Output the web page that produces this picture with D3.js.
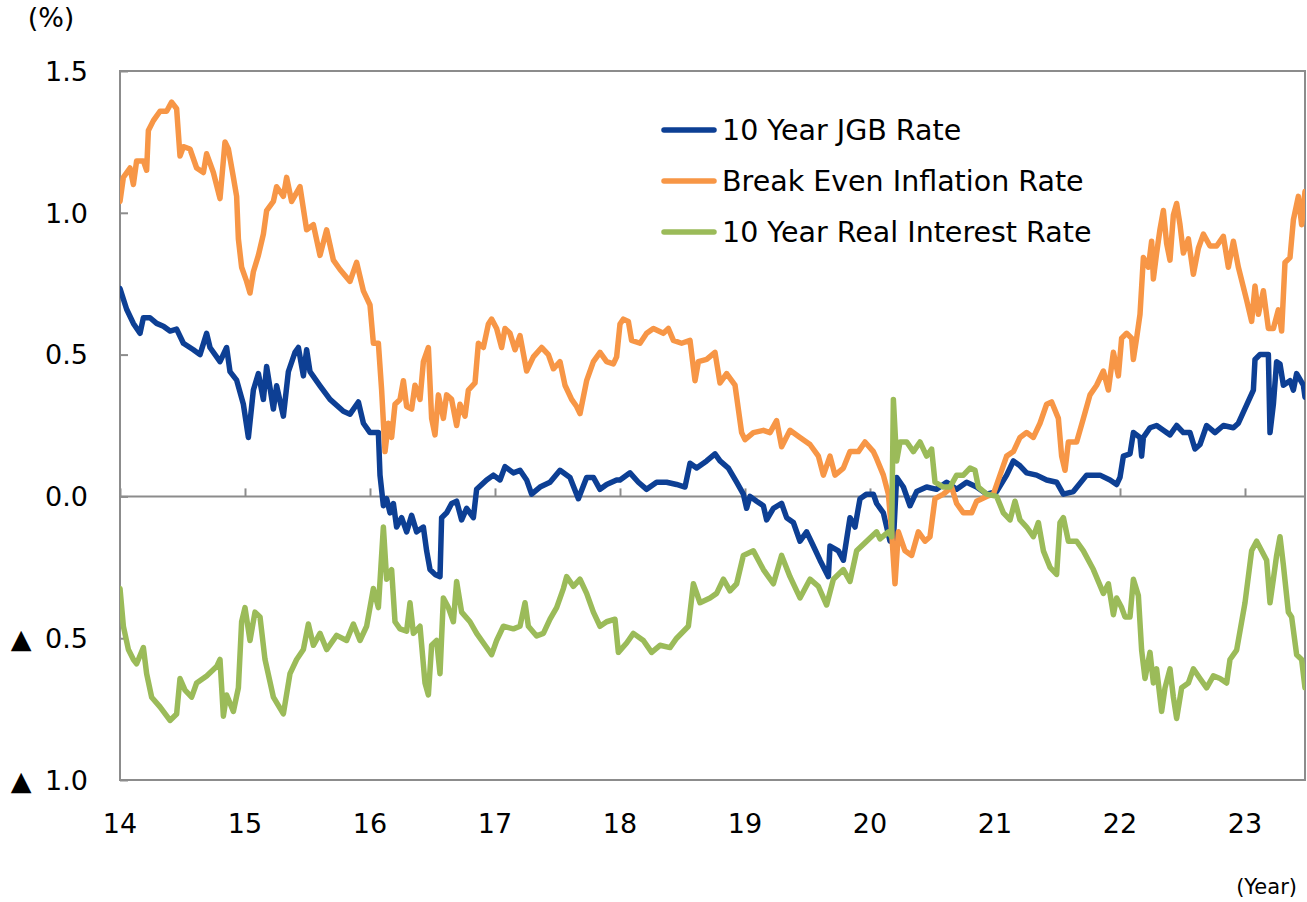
<!DOCTYPE html>
<html lang="en">
    <head>
        <meta charset="utf-8">
        <title>JGB, Break Even Inflation and Real Rate</title>
        <script src="https://d3js.org/d3.v7.min.js"></script>
        <style type="text/css">
            body { margin: 0; background: #fff; }
            text { font-family: "DejaVu Sans", Verdana, sans-serif; fill: #000; }
        </style>
    </head>
    <body>
        <svg width="1307" height="902"></svg>
        <script type="text/javascript">

            // values, [year (2-digit, decimal), rate %]
            const jgbRate = [
                [14.00,0.733],[14.053,0.66],[14.107,0.61],[14.16,0.575],[14.187,0.63],[14.24,0.63],[14.293,0.61],
                [14.347,0.60],[14.40,0.583],[14.453,0.59],[14.507,0.54],[14.587,0.517],[14.64,0.50],[14.693,0.575],
                [14.72,0.525],[14.80,0.475],[14.853,0.525],[14.88,0.44],[14.933,0.41],[14.987,0.325],[15.027,0.208],
                [15.067,0.375],[15.107,0.433],[15.147,0.342],[15.173,0.458],[15.227,0.308],[15.253,0.39],[15.307,0.283],
                [15.347,0.44],[15.40,0.508],[15.427,0.525],[15.467,0.425],[15.493,0.517],[15.52,0.44],[15.60,0.39],
                [15.68,0.342],[15.787,0.30],[15.84,0.29],[15.907,0.333],[15.947,0.258],[16.00,0.225],[16.027,0.225],
                [16.067,0.225],[16.08,0.075],[16.107,-0.033],[16.133,-0.008],[16.16,-0.058],[16.187,-0.025],[16.213,-0.108],
                [16.253,-0.075],[16.293,-0.125],[16.333,-0.067],[16.373,-0.125],[16.427,-0.108],[16.453,-0.192],[16.48,-0.258],
                [16.52,-0.275],[16.56,-0.283],[16.573,-0.075],[16.613,-0.058],[16.653,-0.025],[16.693,-0.017],[16.733,-0.083],
                [16.773,-0.042],[16.827,-0.075],[16.853,0.025],[16.933,0.058],[16.987,0.075],[17.04,0.058],[17.08,0.105],
                [17.147,0.083],[17.20,0.092],[17.253,0.058],[17.293,0.008],[17.36,0.033],[17.44,0.05],[17.52,0.092],
                [17.60,0.067],[17.667,-0.008],[17.733,0.067],[17.787,0.067],[17.84,0.025],[17.893,0.042],[17.973,0.058],
                [18.00,0.058],[18.08,0.083],[18.147,0.05],[18.213,0.025],[18.293,0.05],[18.373,0.05],[18.453,0.042],
                [18.52,0.033],[18.56,0.117],[18.613,0.10],[18.693,0.125],[18.76,0.15],[18.80,0.125],[18.867,0.10],
                [18.933,0.05],[18.987,0.008],[19.013,-0.042],[19.04,0],[19.093,-0.017],[19.147,-0.033],[19.173,-0.083],
                [19.227,-0.042],[19.293,-0.025],[19.333,-0.075],[19.387,-0.092],[19.44,-0.158],[19.493,-0.125],[19.547,-0.175],
                [19.60,-0.225],[19.667,-0.283],[19.68,-0.175],[19.747,-0.192],[19.787,-0.225],[19.84,-0.075],[19.88,-0.108],
                [19.92,-0.008],[19.973,0.008],[20.027,0.008],[20.053,-0.025],[20.107,-0.058],[20.16,-0.158],[20.187,-0.158],
                [20.213,0.067],[20.267,0.033],[20.32,-0.033],[20.373,0.017],[20.453,0.033],[20.533,0.025],[20.613,0.05],
                [20.693,0.025],[20.773,0.05],[20.853,0.033],[20.933,0.008],[21.013,0.017],[21.093,0.075],[21.147,0.125],
                [21.20,0.108],[21.253,0.083],[21.333,0.075],[21.413,0.058],[21.493,0.05],[21.547,0.008],[21.627,0.017],
                [21.733,0.075],[21.84,0.075],[21.92,0.058],[21.973,0.042],[22.00,0.067],[22.027,0.142],[22.08,0.15],
                [22.107,0.225],[22.16,0.208],[22.173,0.142],[22.187,0.208],[22.24,0.242],[22.293,0.25],[22.347,0.233],
                [22.40,0.217],[22.453,0.25],[22.507,0.225],[22.56,0.225],[22.60,0.167],[22.64,0.183],[22.693,0.25],
                [22.76,0.225],[22.827,0.25],[22.907,0.242],[22.947,0.258],[23.067,0.375],[23.08,0.483],[23.12,0.50],
                [23.187,0.50],[23.20,0.225],[23.227,0.325],[23.253,0.475],[23.28,0.467],[23.307,0.392],[23.36,0.408],
                [23.387,0.375],[23.413,0.433],[23.467,0.392],[23.48,0.35]
            ];

            const breakEven = [
                [14.00,1.04],[14.027,1.125],[14.08,1.158],[14.107,1.10],[14.133,1.183],[14.187,1.183],[14.213,1.15],
                [14.227,1.29],[14.267,1.325],[14.32,1.358],[14.373,1.358],[14.413,1.39],[14.453,1.367],[14.48,1.20],
                [14.507,1.233],[14.56,1.225],[14.613,1.158],[14.667,1.142],[14.693,1.208],[14.747,1.142],[14.80,1.05],
                [14.84,1.25],[14.867,1.225],[14.907,1.125],[14.933,1.058],[14.947,0.908],[14.973,0.808],[15.013,0.758],
                [15.04,0.717],[15.067,0.792],[15.107,0.85],[15.147,0.925],[15.173,1.008],[15.227,1.04],[15.253,1.092],
                [15.307,1.058],[15.333,1.125],[15.373,1.04],[15.44,1.092],[15.493,0.94],[15.547,0.958],[15.60,0.85],
                [15.653,0.94],[15.707,0.833],[15.76,0.80],[15.84,0.758],[15.893,0.825],[15.947,0.725],[16.00,0.675],
                [16.027,0.54],[16.067,0.54],[16.093,0.375],[16.12,0.158],[16.147,0.258],[16.173,0.208],[16.20,0.325],
                [16.24,0.342],[16.267,0.408],[16.293,0.317],[16.333,0.308],[16.36,0.392],[16.40,0.342],[16.427,0.475],
                [16.467,0.525],[16.493,0.275],[16.52,0.217],[16.547,0.358],[16.587,0.275],[16.613,0.358],[16.653,0.342],
                [16.693,0.25],[16.72,0.325],[16.76,0.283],[16.787,0.375],[16.84,0.40],[16.867,0.54],[16.907,0.525],
                [16.947,0.608],[16.973,0.625],[17.013,0.592],[17.053,0.525],[17.08,0.592],[17.12,0.575],[17.16,0.517],
                [17.20,0.567],[17.253,0.442],[17.307,0.492],[17.373,0.525],[17.427,0.50],[17.467,0.45],[17.52,0.475],
                [17.56,0.392],[17.613,0.342],[17.653,0.317],[17.68,0.292],[17.733,0.408],[17.787,0.475],[17.84,0.508],
                [17.893,0.475],[17.947,0.467],[17.973,0.492],[18.00,0.608],[18.027,0.625],[18.067,0.617],[18.093,0.55],
                [18.16,0.54],[18.213,0.575],[18.267,0.592],[18.347,0.575],[18.387,0.592],[18.427,0.55],[18.493,0.54],
                [18.56,0.55],[18.60,0.408],[18.627,0.475],[18.693,0.483],[18.76,0.508],[18.80,0.40],[18.853,0.433],
                [18.92,0.392],[18.973,0.225],[19.00,0.20],[19.067,0.225],[19.147,0.233],[19.20,0.225],[19.253,0.267],
                [19.293,0.175],[19.36,0.233],[19.44,0.208],[19.52,0.183],[19.587,0.142],[19.627,0.075],[19.68,0.142],
                [19.72,0.075],[19.787,0.10],[19.84,0.158],[19.907,0.158],[19.96,0.192],[20.027,0.158],[20.053,0.133],
                [20.107,0.075],[20.147,0.008],[20.173,-0.125],[20.20,-0.308],[20.227,-0.125],[20.28,-0.192],[20.333,-0.208],
                [20.387,-0.125],[20.44,-0.158],[20.48,-0.142],[20.52,-0.008],[20.587,0.008],[20.653,0.033],[20.693,-0.025],
                [20.747,-0.058],[20.813,-0.058],[20.853,-0.017],[20.933,0],[20.987,0.008],[21.04,0.075],[21.093,0.142],
                [21.147,0.158],[21.20,0.208],[21.253,0.225],[21.307,0.208],[21.36,0.258],[21.413,0.325],[21.453,0.333],
                [21.507,0.275],[21.533,0.142],[21.56,0.092],[21.587,0.192],[21.653,0.192],[21.707,0.275],[21.76,0.358],
                [21.813,0.392],[21.867,0.442],[21.907,0.375],[21.947,0.508],[21.987,0.425],[22.013,0.558],[22.053,0.575],
                [22.093,0.558],[22.107,0.483],[22.133,0.558],[22.16,0.642],[22.187,0.842],[22.227,0.808],[22.253,0.90],
                [22.267,0.767],[22.293,0.858],[22.32,0.942],[22.347,1.008],[22.373,0.892],[22.40,0.833],[22.427,0.992],
                [22.453,1.033],[22.48,0.958],[22.507,0.858],[22.547,0.908],[22.587,0.783],[22.627,0.875],[22.667,0.925],
                [22.72,0.883],[22.773,0.883],[22.827,0.917],[22.867,0.808],[22.907,0.90],[22.947,0.808],[23.013,0.692],
                [23.053,0.617],[23.08,0.742],[23.107,0.642],[23.147,0.725],[23.187,0.592],[23.227,0.592],[23.267,0.658],
                [23.293,0.583],[23.32,0.825],[23.36,0.842],[23.387,0.975],[23.427,1.058],[23.453,0.958],[23.48,1.075]
            ];

            const realRate = [
                [14.00,-0.325],[14.027,-0.458],[14.067,-0.54],[14.107,-0.575],[14.133,-0.59],[14.187,-0.533],[14.213,-0.625],
                [14.253,-0.708],[14.32,-0.742],[14.40,-0.79],[14.453,-0.767],[14.48,-0.642],[14.52,-0.683],[14.573,-0.708],
                [14.613,-0.658],[14.693,-0.633],[14.773,-0.60],[14.80,-0.575],[14.827,-0.775],[14.853,-0.70],[14.907,-0.758],
                [14.947,-0.675],[14.973,-0.442],[15.00,-0.392],[15.04,-0.508],[15.08,-0.408],[15.12,-0.425],[15.16,-0.575],
                [15.227,-0.708],[15.307,-0.767],[15.36,-0.625],[15.413,-0.575],[15.467,-0.54],[15.507,-0.45],[15.547,-0.525],
                [15.60,-0.483],[15.653,-0.54],[15.733,-0.49],[15.813,-0.508],[15.867,-0.45],[15.92,-0.508],[15.973,-0.458],
                [16.027,-0.325],[16.067,-0.392],[16.107,-0.108],[16.133,-0.292],[16.173,-0.258],[16.20,-0.442],[16.24,-0.467],
                [16.293,-0.475],[16.32,-0.375],[16.347,-0.483],[16.40,-0.458],[16.44,-0.658],[16.467,-0.70],[16.493,-0.525],
                [16.533,-0.508],[16.56,-0.625],[16.587,-0.358],[16.627,-0.392],[16.667,-0.442],[16.693,-0.30],[16.733,-0.408],
                [16.80,-0.442],[16.853,-0.483],[16.92,-0.525],[16.973,-0.558],[17.013,-0.508],[17.067,-0.458],[17.147,-0.467],
                [17.20,-0.458],[17.24,-0.375],[17.267,-0.458],[17.333,-0.492],[17.387,-0.483],[17.44,-0.433],[17.493,-0.392],
                [17.547,-0.325],[17.573,-0.283],[17.627,-0.317],[17.68,-0.292],[17.733,-0.342],[17.787,-0.408],[17.84,-0.458],
                [17.893,-0.442],[17.96,-0.433],[17.987,-0.55],[18.053,-0.517],[18.107,-0.483],[18.187,-0.508],[18.253,-0.55],
                [18.32,-0.525],[18.40,-0.533],[18.453,-0.50],[18.547,-0.458],[18.587,-0.308],[18.64,-0.375],[18.72,-0.358],
                [18.773,-0.342],[18.827,-0.292],[18.88,-0.333],[18.933,-0.308],[18.987,-0.208],[19.067,-0.192],[19.147,-0.258],
                [19.227,-0.308],[19.293,-0.208],[19.36,-0.283],[19.44,-0.358],[19.52,-0.292],[19.587,-0.317],[19.653,-0.383],
                [19.707,-0.292],[19.787,-0.258],[19.84,-0.30],[19.893,-0.192],[19.973,-0.158],[20.053,-0.125],[20.08,-0.15],
                [20.147,-0.125],[20.173,-0.142],[20.187,0.342],[20.213,0.125],[20.24,0.192],[20.293,0.192],[20.347,0.158],
                [20.40,0.192],[20.453,0.142],[20.493,0.167],[20.52,0.05],[20.587,0.033],[20.64,0.033],[20.693,0.075],
                [20.747,0.075],[20.80,0.10],[20.84,0.092],[20.867,0.033],[20.933,0.008],[21.013,0],[21.067,-0.058],
                [21.12,-0.083],[21.16,-0.017],[21.20,-0.083],[21.253,-0.108],[21.307,-0.142],[21.347,-0.092],[21.387,-0.192],
                [21.44,-0.25],[21.493,-0.275],[21.52,-0.092],[21.547,-0.075],[21.587,-0.158],[21.653,-0.158],[21.707,-0.192],
                [21.787,-0.258],[21.867,-0.342],[21.907,-0.308],[21.947,-0.417],[21.973,-0.358],[22.013,-0.392],[22.04,-0.425],
                [22.08,-0.425],[22.107,-0.292],[22.147,-0.35],[22.173,-0.542],[22.20,-0.642],[22.24,-0.55],[22.267,-0.658],
                [22.293,-0.608],[22.333,-0.758],[22.36,-0.675],[22.40,-0.608],[22.427,-0.708],[22.453,-0.783],[22.493,-0.675],
                [22.547,-0.658],[22.587,-0.608],[22.64,-0.642],[22.693,-0.675],[22.747,-0.633],[22.80,-0.642],[22.853,-0.658],
                [22.88,-0.575],[22.933,-0.542],[23.00,-0.375],[23.053,-0.192],[23.093,-0.158],[23.133,-0.192],[23.173,-0.225],
                [23.20,-0.375],[23.227,-0.292],[23.253,-0.208],[23.28,-0.142],[23.307,-0.242],[23.347,-0.408],[23.373,-0.425],
                [23.413,-0.558],[23.453,-0.575],[23.48,-0.675]
            ];

            const seriesNames = ["10 Year JGB Rate", "Break Even Inflation Rate", "10 Year Real Interest Rate"];
            const yearTicks = [14, 15, 16, 17, 18, 19, 20, 21, 22, 23];
            const yTickValues = [1.5, 1.0, 0.5, 0.0, -0.5, -1.0];
            const yTickLabels = ["1.5", "1.0", "0.5", "0.0", "\u25B2\u20020.5", "\u25B2\u20021.0"];

            const svg = d3.select("svg");
            const colors = ["#0D3F94", "#F79646", "#9BBB59"];
            const axisColor = "#8c8c8c";

            const plotL = 120, plotR = 1305, plotT = 71, plotB = 780;

            const xScale = d3.scaleLinear()
                             .domain([14, 23.48])
                             .range([plotL, plotR]);

            const yScale = d3.scaleLinear()
                             .domain([-1.0, 1.5])
                             .range([plotB, plotT]);

            svg.append("defs").append("clipPath")
               .attr("id", "plot")
               .append("rect")
               .attr("x", plotL).attr("y", plotT)
               .attr("width", plotR - plotL).attr("height", plotB - plotT);

            //plot frame
            svg.append("rect")
               .attr("x", plotL).attr("y", plotT)
               .attr("width", plotR - plotL).attr("height", plotB - plotT)
               .attr("fill", "none")
               .attr("stroke", axisColor)
               .attr("stroke-width", 2);

            //y ticks, drawn inward from left edge
            const yAxis = d3.axisRight(yScale)
                            .tickValues(yTickValues)
                            .tickSize(8)
                            .tickFormat("");
            const yG = svg.append("g")
                          .attr("transform", `translate(${plotL},0)`)
                          .call(yAxis);
            yG.select(".domain").remove();
            yG.selectAll("line").attr("stroke", axisColor).attr("stroke-width", 2);

            //y labels
            svg.selectAll("text.ylab")
               .data(yTickValues)
               .enter()
               .append("text")
               .attr("class", "ylab")
               .attr("x", 88)
               .attr("y", d => yScale(d))
               .attr("dy", "0.36em")
               .attr("text-anchor", "end")
               .style("font-size", "27px")
               .text((d, i) => yTickLabels[i]);

            //zero line with year ticks pointing up
            const xAxis = d3.axisTop(xScale)
                            .tickValues(yearTicks)
                            .tickSize(8)
                            .tickFormat("");
            const xG = svg.append("g")
                          .attr("transform", `translate(0,${yScale(0)})`)
                          .call(xAxis);
            xG.select(".domain")
              .attr("d", `M${plotL},0H${plotR}`)
              .attr("stroke", axisColor)
              .attr("stroke-width", 2);
            xG.selectAll("line").attr("stroke", axisColor).attr("stroke-width", 2);

            //year labels under the frame
            svg.selectAll("text.xlab")
               .data(yearTicks)
               .enter()
               .append("text")
               .attr("class", "xlab")
               .attr("x", d => xScale(d))
               .attr("y", 823)
               .attr("dy", "0.36em")
               .attr("text-anchor", "middle")
               .style("font-size", "27px")
               .text(d => d);

            svg.append("text")
               .attr("x", 51).attr("y", 17).attr("dy", "0.36em")
               .attr("text-anchor", "middle")
               .style("font-size", "27px")
               .text("(%)");

            svg.append("text")
               .attr("x", 1297).attr("y", 886).attr("dy", "0.36em")
               .attr("text-anchor", "end")
               .style("font-size", "21px")
               .text("(Year)");

            //lines
            const line = d3.line()
                           .x(d => xScale(d[0]))
                           .y(d => yScale(d[1]));

            const allSeries = [jgbRate, breakEven, realRate];

            svg.append("g")
               .attr("clip-path", "url(#plot)")
               .selectAll("path")
               .data(allSeries)
               .enter()
               .append("path")
               .attr("d", line)
               .attr("fill", "none")
               .attr("stroke", (d, i) => colors[i])
               .attr("stroke-width", 5.5)
               .attr("stroke-linejoin", "round")
               .attr("stroke-linecap", "round");

            //legend
            const legend = svg.append("g")
                              .selectAll("g")
                              .data(seriesNames)
                              .enter()
                              .append("g")
                              .attr("transform", (d, i) => `translate(662,${130 + i * 51})`);

            legend.append("line")
                  .attr("x1", 2).attr("x2", 52)
                  .attr("stroke", (d, i) => colors[i])
                  .attr("stroke-width", 5.5)
                  .attr("stroke-linecap", "round");

            legend.append("text")
                  .attr("x", 60)
                  .attr("dy", "0.36em")
                  .style("font-size", "28.5px")
                  .text(d => d);

        </script>
    </body>
</html>
